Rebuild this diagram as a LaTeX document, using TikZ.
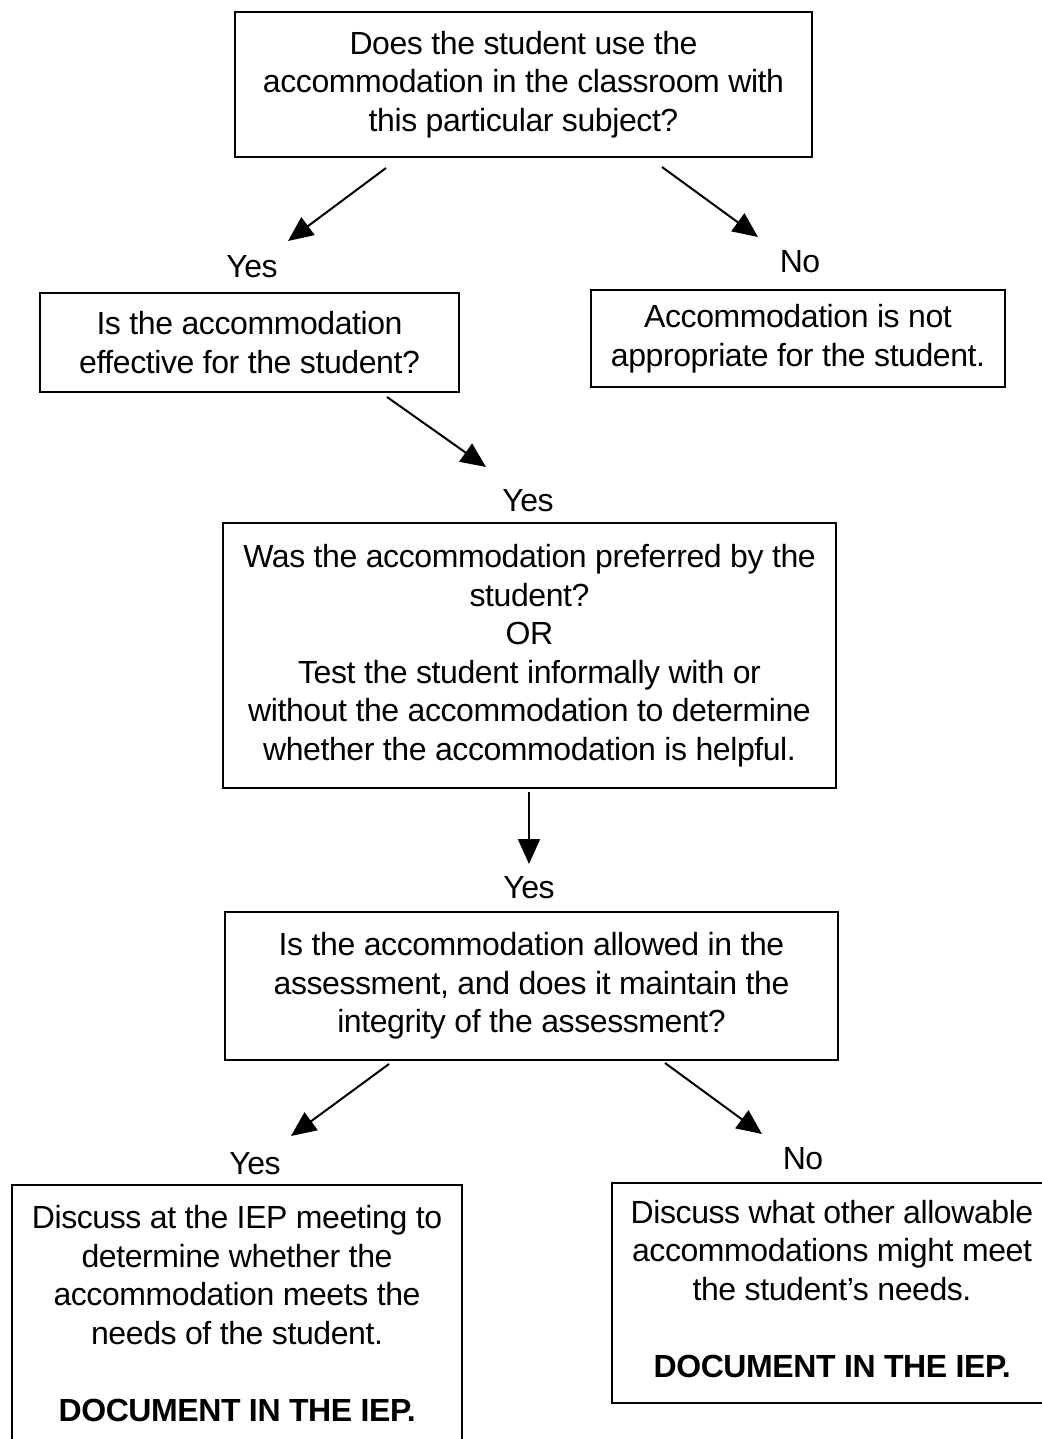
\documentclass[tikz,border=0pt]{standalone}
\usepackage{fontspec}
\setmainfont{Liberation Sans}[LetterSpace=-1.3]
\usetikzlibrary{arrows.meta}
\begin{document}
\begin{tikzpicture}[x=0.5pt,y=-0.5pt,
  box/.style={draw, line width=0.9pt, align=center, inner sep=0pt,
    font=\fontsize{16}{19.25}\selectfont},
  txt/.style={align=center, inner sep=0pt, font=\fontsize{16}{19.25}\selectfont},
  lbl/.style={font=\fontsize{16}{19.25}\selectfont, anchor=base, inner sep=0pt},
  arr/.style={line width=1pt, -{Triangle[length=12.5pt,width=11pt]}}]
\useasboundingbox (0,0) rectangle (1042,1439);
\clip (0,0) rectangle (1042,1439);
% boxes
\node[box, minimum width=577*0.5pt, minimum height=145*0.5pt] (q1) at (523.5,84.5)
  {Does the student use the\\accommodation in the classroom with\\this particular subject?};
\node[box, minimum width=419*0.5pt, minimum height=99*0.5pt] (q2) at (249.5,342.5)
  {Is the accommodation\\effective for the student?};
\node[box, minimum width=414*0.5pt, minimum height=97*0.5pt] (na) at (798,338.5)
  {Accommodation is not\\appropriate for the student.};
\node[box, minimum width=613*0.5pt, minimum height=265*0.5pt] (q3) at (529.5,655.5)
  {Was the accommodation preferred by the\\student?\\OR\\Test the student informally with or\\without the accommodation to determine\\whether the accommodation is helpful.};
\node[box, minimum width=613*0.5pt, minimum height=148*0.5pt] (q4) at (531.5,986)
  {Is the accommodation allowed in the\\assessment, and does it maintain the\\integrity of the assessment?};
\node[box, minimum width=450*0.5pt, minimum height=257*0.5pt] (r1) at (237,1313.5)
  {Discuss at the IEP meeting to\\determine whether the\\accommodation meets the\\needs of the student.\\[19.25pt]\textbf{DOCUMENT IN THE IEP.}};
\node[box, minimum width=432*0.5pt, minimum height=220*0.5pt] (r2) at (828,1293) {};
\node[txt] (r2t) at (832,1289)
  {Discuss what other allowable\\accommodations might meet\\the student's needs.\\[19.25pt]\textbf{DOCUMENT IN THE IEP.}};
% labels
\node[lbl] (y1) at (252,278) {Yes};
\node[lbl] (n1) at (800,272) {No};
\node[lbl] (y2) at (528,511) {Yes};
\node[lbl] (y3) at (529,898) {Yes};
\node[lbl] (y4) at (255,1174) {Yes};
\node[lbl] (n2) at (803,1169) {No};
% arrow end points
\coordinate (a1s) at (386,168); \coordinate (a1e) at (288,241);
\coordinate (a2s) at (662,167); \coordinate (a2e) at (758,237);
\coordinate (a3s) at (387,397); \coordinate (a3e) at (486,467);
\coordinate (a4s) at (529,792); \coordinate (a4e) at (529,864);
\coordinate (a5s) at (389,1064); \coordinate (a5e) at (291,1136);
\coordinate (a6s) at (665,1063); \coordinate (a6e) at (762,1134);
\draw[arr] (a1s) -- (a1e);
\draw[arr] (a2s) -- (a2e);
\draw[arr] (a3s) -- (a3e);
\draw[arr] (a4s) -- (a4e);
\draw[arr] (a5s) -- (a5e);
\draw[arr] (a6s) -- (a6e);
\end{tikzpicture}
\end{document}
